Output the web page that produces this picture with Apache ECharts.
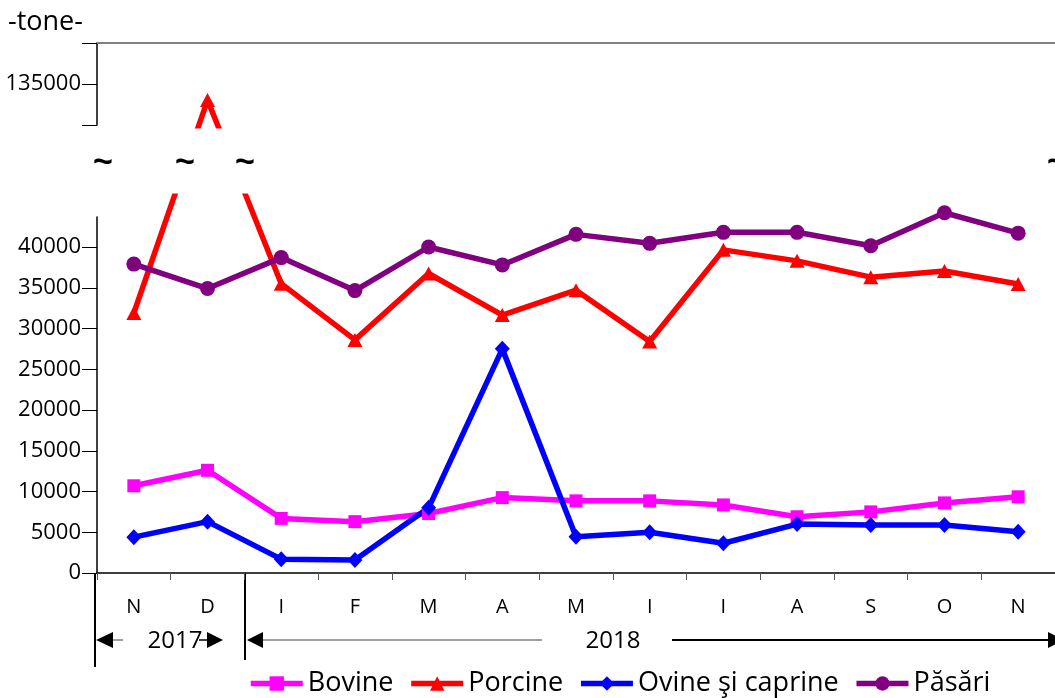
<!DOCTYPE html>
<html>
<head>
<meta charset="utf-8">
<script src="https://cdn.jsdelivr.net/npm/echarts@6/dist/echarts.min.js"></script>
<style>
html,body{margin:0;padding:0;background:#fff;}
#chart{width:1055px;height:698px;}
</style>
</head>
<body>
<div id="chart"></div>
<script>
// luni: nov 2017 - nov 2018
var luni = ["N","D","I","F","M","A","M","I","I","A","S","O","N"];
var bovine = [10700,12600,6700,6300,7300,9250,8850,8850,8350,6900,7500,8600,9350];
var porcine = [31900,133000,35500,28600,36750,31650,34700,28400,39650,38300,36300,37050,35450];
var ovine = [4400,6300,1700,1600,8000,27500,4450,5000,3650,6000,5900,5900,5050];
var pasari = [37900,34900,38700,34650,40000,37800,41550,40450,41800,41800,40150,44200,41700];
var etichetaSus = [135000];
var ani = ["2017","2018"];
// intreruperea axei (valori)
var rupturaStart = 46555, rupturaEnd = 129500, rupturaGap = 7975;
var font = "Open Sans";

function serie(nume, date, culoare, simbol, marime){
	return {
		name: nume,
		type: 'line',
		xAxisIndex: 0,
		yAxisIndex: 0,
		data: date,
		symbol: simbol,
		symbolSize: marime,
		showAllSymbol: true,
		lineStyle: {width: 5.5, color: culoare},
		itemStyle: {color: culoare},
		emphasis: {disabled: true}
	};
}

function tilda(x){
	return {type: 'text', x: x, y: 163, z: 150,
		style: {text: '~', fontSize: 34, fontWeight: 'bold', fill: '#000', align: 'center', verticalAlign: 'middle'}};
}

var axaY = {
	axisLine: {show: true, lineStyle: {color: '#000', width: 1.5}},
	axisTick: {show: true, length: 15, lineStyle: {color: '#000'}},
	splitLine: {show: false}
};

var option = {
	animation: false,
	textStyle: {fontFamily: font},
	grid: [
		{left: 97, width: 970, top: 43, height: 530},
		{left: 97, width: 970, top: 43, height: 82},
		{left: 97, width: 970, top: 217, height: 356}
	],
	xAxis: [
		{gridIndex: 0, type: 'category', data: luni, position: 'bottom',
			axisLine: {lineStyle: {color: '#000', width: 1.5}},
			axisTick: {show: true, inside: false, length: 7, lineStyle: {color: '#555'}},
			axisLabel: {fontSize: 20, color: '#000', margin: 24, fontFamily: font}},
		{gridIndex: 1, type: 'category', data: luni, position: 'top',
			axisLine: {lineStyle: {color: '#808080', width: 2}},
			axisTick: {show: false}, axisLabel: {show: false}},
		{gridIndex: 2, type: 'category', data: luni, show: false}
	],
	yAxis: [
		{gridIndex: 0, type: 'value', min: 0, max: 140000,
			axisLine: {show: false}, axisTick: {show: false}, axisLabel: {show: false},
			splitLine: {show: false},
			breaks: [{start: rupturaStart, end: rupturaEnd, gap: rupturaGap}],
			breakArea: {show: true, zigzagAmplitude: 0,
				itemStyle: {color: '#fff', opacity: 1, borderColor: '#fff', borderWidth: 0}}},
		Object.assign({gridIndex: 1, type: 'value', min: 130000, max: 140000, interval: 5000,
			axisLabel: {margin: 16, fontSize: 22, color: '#000', fontFamily: font,
				formatter: function(v){ return etichetaSus.indexOf(v) >= 0 ? String(v) : ''; }}}, axaY),
		Object.assign({gridIndex: 2, type: 'value', min: 0, max: 43681, interval: 5000,
			axisLabel: {margin: 16, fontSize: 22, color: '#000', fontFamily: font, showMaxLabel: false,
				formatter: function(v){ return String(v); }}}, axaY)
	],
	legend: {
		left: 248, top: 670, padding: 0,
		itemWidth: 52, itemHeight: 18, itemGap: 15,
		lineStyle: {width: 5.5},
		textStyle: {fontSize: 27, color: '#000', fontFamily: font},
		data: ['Bovine', 'Porcine', 'Ovine şi caprine', 'Păsări']
	},
	series: [
		serie('Bovine', bovine, '#FF00FF', 'rect', 13),
		serie('Porcine', porcine, '#FF0000', 'triangle', [15, 14]),
		serie('Ovine şi caprine', ovine, '#0000FF', 'diamond', [15, 16]),
		serie('Păsări', pasari, '#800080', 'circle', 15)
	],
	graphic: [
		{type: 'text', left: 8, top: 9, style: {text: '-tone-', fontSize: 27, fill: '#000', fontFamily: font}},
		tilda(103), tilda(185), tilda(245), tilda(1057),
		// separatoare ani
		{type: 'line', shape: {x1: 95, y1: 573, x2: 95, y2: 667}, style: {stroke: '#000', lineWidth: 2}},
		{type: 'line', shape: {x1: 245, y1: 573, x2: 245, y2: 660}, style: {stroke: '#000', lineWidth: 2}},
		// 2017
		{type: 'polygon', shape: {points: [[96, 640], [113, 632], [113, 648]]}, style: {fill: '#000'}},
		{type: 'line', shape: {x1: 113, y1: 640, x2: 123, y2: 640}, style: {stroke: '#808080', lineWidth: 1.5}},
		{type: 'text', x: 175, y: 641, style: {text: ani[0], fontSize: 24, fill: '#000', align: 'center', verticalAlign: 'middle', fontFamily: font}},
		{type: 'line', shape: {x1: 199, y1: 640, x2: 208, y2: 640}, style: {stroke: '#000', lineWidth: 1.5}},
		{type: 'polygon', shape: {points: [[223, 640], [207, 632], [207, 648]]}, style: {fill: '#000'}},
		// 2018
		{type: 'polygon', shape: {points: [[247, 640], [263, 632], [263, 648]]}, style: {fill: '#000'}},
		{type: 'line', shape: {x1: 263, y1: 640, x2: 542, y2: 640}, style: {stroke: '#808080', lineWidth: 1.5}},
		{type: 'text', x: 613, y: 641, style: {text: ani[1], fontSize: 24, fill: '#000', align: 'center', verticalAlign: 'middle', fontFamily: font}},
		{type: 'line', shape: {x1: 672, y1: 640, x2: 1050, y2: 640}, style: {stroke: '#000', lineWidth: 2}},
		{type: 'polygon', shape: {points: [[1064, 640], [1048, 632], [1048, 648]]}, style: {fill: '#000'}}
	]
};

var myChart = echarts.init(document.getElementById('chart'));
myChart.setOption(option);
</script>
</body>
</html>
